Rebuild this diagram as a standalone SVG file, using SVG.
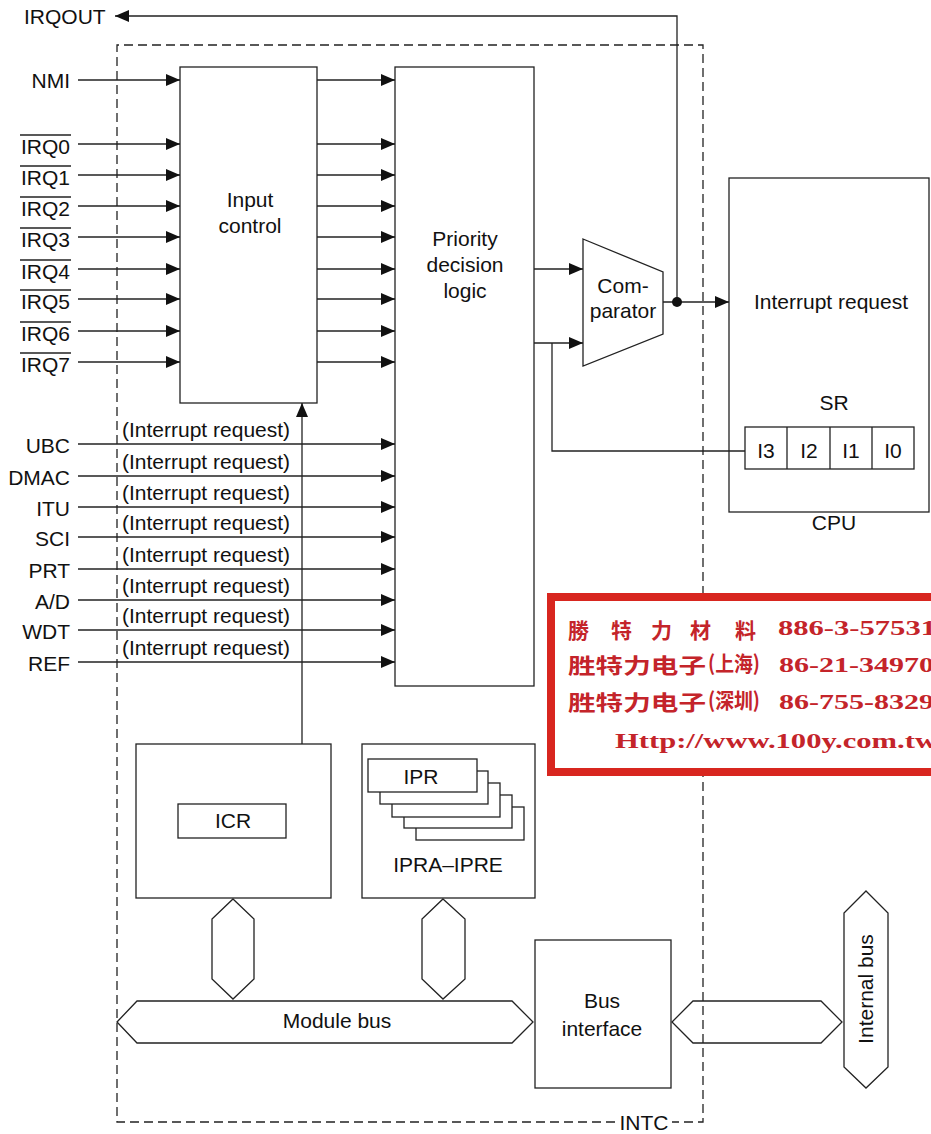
<svg xmlns="http://www.w3.org/2000/svg" width="931" height="1134" viewBox="0 0 931 1134">
<defs>
<style>
text{font-family:"Liberation Sans",Arial,sans-serif;font-size:21px;fill:#111}
.m{text-anchor:middle}
.e{text-anchor:end}
.b{fill:#fff;stroke:#222;stroke-width:1.3}
.c{fill:none;stroke:#222;stroke-width:1.3}
.a{fill:none;stroke:#222;stroke-width:1.3;marker-end:url(#ah)}
.d{fill:none;stroke:#222;stroke-width:1.3;stroke-dasharray:9,5}
.r{font-family:"Liberation Serif","Noto Sans CJK TC",serif;font-weight:bold;fill:#c4242a}
.rc{font-family:"Noto Sans CJK TC","Noto Sans CJK SC",sans-serif;font-weight:bold;fill:#c4242a}
</style>
<marker id="ah" markerUnits="userSpaceOnUse" markerWidth="14" markerHeight="12" refX="14" refY="6" orient="auto">
<path d="M0,0 L14,6 L0,12 z" fill="#111"/>
</marker>
</defs>
<rect width="931" height="1134" fill="#fff"/>

<g id="intc-frame">
<path class="d" d="M615,1122 L117,1122 L117,45 L703,45 L703,1122 L672,1122"/>
<text x="644" y="1130" class="m">INTC</text>
</g>

<g id="input-control">
<rect class="b" x="180" y="67" width="137" height="336"/>
<text x="250" y="207" class="m">Input</text>
<text x="250" y="233" class="m">control</text>
</g>

<g id="priority-logic">
<rect class="b" x="395" y="67" width="139" height="619"/>
<text x="465" y="246" class="m">Priority</text>
<text x="465" y="272" class="m">decision</text>
<text x="465" y="298" class="m">logic</text>
</g>

<g id="comparator">
<polygon class="b" points="583,239 663,272 663,334 583,366"/>
<text x="623" y="293" class="m">Com-</text>
<text x="623" y="318" class="m">parator</text>
</g>

<g id="cpu">
<rect class="b" x="729" y="178" width="200" height="334"/>
<text x="831" y="309" class="m">Interrupt request</text>
<text x="834" y="410" class="m">SR</text>
<rect class="b" x="745" y="427" width="169" height="42"/>
<line class="c" x1="787" y1="427" x2="787" y2="469"/>
<line class="c" x1="830" y1="427" x2="830" y2="469"/>
<line class="c" x1="872" y1="427" x2="872" y2="469"/>
<text x="766" y="458" class="m">I3</text>
<text x="809" y="458" class="m">I2</text>
<text x="851" y="458" class="m">I1</text>
<text x="893" y="458" class="m">I0</text>
<text x="834" y="530" class="m">CPU</text>
</g>

<g id="icr">
<rect class="b" x="136" y="744" width="195" height="154"/>
<rect class="b" x="178" y="804" width="108" height="34"/>
<text x="233" y="828" class="m">ICR</text>
</g>

<g id="ipr">
<rect class="b" x="362" y="744" width="173" height="154"/>
<rect class="b" x="416" y="807" width="108" height="33"/>
<rect class="b" x="404" y="795" width="108" height="33"/>
<rect class="b" x="392" y="783" width="108" height="34"/>
<rect class="b" x="380" y="771" width="108" height="33"/>
<rect class="b" x="368" y="759" width="109" height="33"/>
<text x="421" y="784" class="m">IPR</text>
<text x="448" y="872" class="m">IPRA–IPRE</text>
</g>

<g id="bus-interface">
<rect class="b" x="535" y="940" width="136" height="148"/>
<text x="602" y="1008" class="m">Bus</text>
<text x="602" y="1036" class="m">interface</text>
</g>

<g id="module-bus">
<polygon class="b" points="117,1022 137,1001 512,1001 533,1022 512,1043 137,1043"/>
<text x="337" y="1028" class="m">Module bus</text>
</g>

<g id="internal-bus">
<polygon class="b" points="866,891 888,913 888,1067 866,1088 844,1067 844,913"/>
<text class="m" transform="translate(873,989) rotate(-90)">Internal bus</text>
</g>

<g id="connectors">
<polyline class="a" points="677,302 677,16 115,16"/>
<line class="a" x1="78" y1="80" x2="180" y2="80"/>
<line class="a" x1="78" y1="144" x2="180" y2="144"/>
<line class="a" x1="78" y1="175" x2="180" y2="175"/>
<line class="a" x1="78" y1="206" x2="180" y2="206"/>
<line class="a" x1="78" y1="237" x2="180" y2="237"/>
<line class="a" x1="78" y1="269" x2="180" y2="269"/>
<line class="a" x1="78" y1="299" x2="180" y2="299"/>
<line class="a" x1="78" y1="331" x2="180" y2="331"/>
<line class="a" x1="78" y1="362" x2="180" y2="362"/>
<line class="a" x1="317" y1="80" x2="395" y2="80"/>
<line class="a" x1="317" y1="144" x2="395" y2="144"/>
<line class="a" x1="317" y1="175" x2="395" y2="175"/>
<line class="a" x1="317" y1="206" x2="395" y2="206"/>
<line class="a" x1="317" y1="237" x2="395" y2="237"/>
<line class="a" x1="317" y1="269" x2="395" y2="269"/>
<line class="a" x1="317" y1="299" x2="395" y2="299"/>
<line class="a" x1="317" y1="331" x2="395" y2="331"/>
<line class="a" x1="317" y1="362" x2="395" y2="362"/>
<line class="a" x1="78" y1="444" x2="395" y2="444"/>
<line class="a" x1="78" y1="476" x2="395" y2="476"/>
<line class="a" x1="78" y1="507" x2="395" y2="507"/>
<line class="a" x1="78" y1="537" x2="395" y2="537"/>
<line class="a" x1="78" y1="569" x2="395" y2="569"/>
<line class="a" x1="78" y1="600" x2="395" y2="600"/>
<line class="a" x1="78" y1="630" x2="395" y2="630"/>
<line class="a" x1="78" y1="662" x2="395" y2="662"/>
<line class="a" x1="302" y1="744" x2="302" y2="403"/>
<line class="a" x1="534" y1="269" x2="583" y2="269"/>
<line class="a" x1="534" y1="343" x2="583" y2="343"/>
<polyline class="c" points="552,343 552,451 745,451"/>
<line class="a" x1="663" y1="302" x2="729" y2="302"/>
<circle cx="677" cy="302" r="5" fill="#111"/>
<polygon class="b" points="233,899 254,919 254,979 233,999 212,979 212,919"/>
<polygon class="b" points="443,899 465,919 465,979 443,999 422,979 422,919"/>
<polygon class="c" points="672,1022 693,1001 821,1001 842,1022 821,1043 693,1043"/>
</g>

<g id="labels">
<text x="24" y="24">IRQOUT</text>
<text x="70" y="88" class="e">NMI</text>
<text x="70" y="154" class="e">IRQ0</text>
<text x="70" y="185" class="e">IRQ1</text>
<text x="70" y="216" class="e">IRQ2</text>
<text x="70" y="247" class="e">IRQ3</text>
<text x="70" y="279" class="e">IRQ4</text>
<text x="70" y="309" class="e">IRQ5</text>
<text x="70" y="341" class="e">IRQ6</text>
<text x="70" y="372" class="e">IRQ7</text>
<g class="c">
<line x1="20" y1="135" x2="71" y2="135"/>
<line x1="20" y1="166" x2="71" y2="166"/>
<line x1="20" y1="197" x2="71" y2="197"/>
<line x1="20" y1="228" x2="71" y2="228"/>
<line x1="20" y1="260" x2="71" y2="260"/>
<line x1="20" y1="290" x2="71" y2="290"/>
<line x1="20" y1="322" x2="71" y2="322"/>
<line x1="20" y1="353" x2="71" y2="353"/>
</g>
<text x="70" y="453" class="e">UBC</text>
<text x="70" y="485" class="e">DMAC</text>
<text x="70" y="516" class="e">ITU</text>
<text x="70" y="546" class="e">SCI</text>
<text x="70" y="578" class="e">PRT</text>
<text x="70" y="609" class="e">A/D</text>
<text x="70" y="639" class="e">WDT</text>
<text x="70" y="671" class="e">REF</text>
<text x="122" y="437">(Interrupt request)</text>
<text x="122" y="469">(Interrupt request)</text>
<text x="122" y="500">(Interrupt request)</text>
<text x="122" y="530">(Interrupt request)</text>
<text x="122" y="562">(Interrupt request)</text>
<text x="122" y="593">(Interrupt request)</text>
<text x="122" y="623">(Interrupt request)</text>
<text x="122" y="655">(Interrupt request)</text>
</g>

<g id="stamp">
<rect x="551" y="597" width="400" height="175" fill="#fff" stroke="#d8261f" stroke-width="8"/>
<text class="rc" x="568 611 651 690 735" y="638" font-size="25">勝特力材料</text>
<text class="r" x="778" y="635" font-size="25" textLength="158" lengthAdjust="spacingAndGlyphs">886-3-57531</text>
<text class="rc" x="568" y="673" font-size="26" textLength="138" lengthAdjust="spacingAndGlyphs">胜特力电子</text>
<text class="rc" x="708" y="671" font-size="16" textLength="52" lengthAdjust="spacingAndGlyphs">(上海)</text>
<text class="r" x="779" y="672" font-size="25" textLength="155" lengthAdjust="spacingAndGlyphs">86-21-34970</text>
<text class="rc" x="568" y="710" font-size="26" textLength="138" lengthAdjust="spacingAndGlyphs">胜特力电子</text>
<text class="rc" x="708" y="708" font-size="16" textLength="52" lengthAdjust="spacingAndGlyphs">(深圳)</text>
<text class="r" x="779" y="709" font-size="25" textLength="155" lengthAdjust="spacingAndGlyphs">86-755-8329</text>
<text class="r" x="615" y="748" font-size="23" textLength="322" lengthAdjust="spacingAndGlyphs">Http://www.100y.com.tw</text>
</g>
</svg>
